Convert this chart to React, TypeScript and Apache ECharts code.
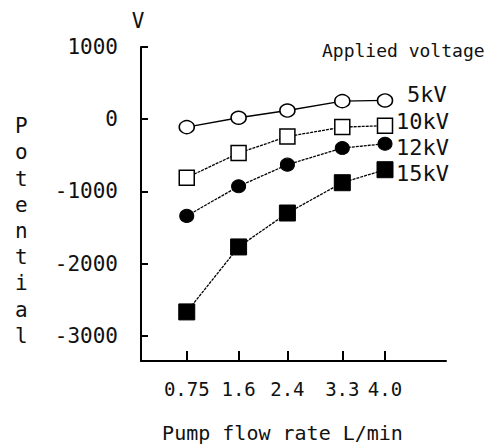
import React, { useEffect, useRef } from "react";
import * as echarts from "echarts";

const flowRates = [0.75, 1.6, 2.4, 3.3, 4.0];
const tickLabels = ["0.75", "1.6", "2.4", "3.3", "4.0"];
const yTicks = [-3000, -2000, -1000, 0, 1000];

const seriesNames = ["5kV", "10kV", "12kV", "15kV"];
const v5 = [-110, 20, 120, 250, 260];
const v10 = [-810, -470, -240, -110, -90];
const v12 = [-1340, -930, -630, -400, -340];
const v15 = [-2670, -1770, -1300, -880, -700];

const MONO = "DejaVu Sans Mono";

export default function App() {
  const ref = useRef<HTMLDivElement>(null);
  useEffect(() => {
    if (!ref.current) return;
    const chart = echarts.init(ref.current, null, { renderer: "svg" });
    const mk = (vals: number[]) => vals.map((v, i) => [flowRates[i], v]);
    const solidLine = { color: "#000", width: 1.4 };
    const dotLine = { color: "#000", width: 1.3, type: [3, 1] };
    const endLabelBase = {
      show: true,
      fontFamily: MONO,
      fontSize: 22,
      color: "#111",
      formatter: "{a}",
    };
    chart.setOption({
      animation: false,
      backgroundColor: "#fff",
      title: {
        text: "Applied voltage",
        left: 317,
        top: 36,
        textStyle: { fontFamily: MONO, fontSize: 18, fontWeight: "normal", color: "#111" },
      },
      graphic: [
        {
          type: "text",
          left: 15,
          top: 113,
          style: {
            text: "P\no\nt\ne\nn\nt\ni\na\nl",
            fontFamily: MONO,
            fontSize: 21,
            lineHeight: 26.2,
            fill: "#111",
            align: "center",
          },
        },
      ],
      grid: { left: 141, right: 46, top: 47, bottom: 84 },
      xAxis: {
        type: "value",
        min: 0,
        max: 5.0,
        name: "Pump flow rate L/min",
        nameLocation: "middle",
        nameGap: 62,
        nameTextStyle: { fontFamily: MONO, fontSize: 20, color: "#111", padding: [0, 22, 0, 0] },
        axisLine: { show: true, onZero: false, lineStyle: { color: "#000", width: 2 } },
        axisTick: { show: true, inside: true, length: 10, customValues: flowRates, lineStyle: { color: "#000", width: 2 } },
        axisLabel: {
          customValues: flowRates,
          formatter: (v: number) => tickLabels[flowRates.indexOf(v)] ?? "",
          fontFamily: MONO,
          fontSize: 19,
          color: "#111",
          margin: 18,
        },
        splitLine: { show: false },
      },
      yAxis: {
        type: "value",
        min: -3350,
        max: 1000,
        name: "V",
        nameLocation: "end",
        nameGap: 16,
        nameTextStyle: { fontFamily: MONO, fontSize: 21, color: "#111", align: "center", padding: [0, 6, 0, 0] },
        axisLine: { show: true, onZero: false, lineStyle: { color: "#000", width: 2 } },
        axisTick: { show: true, inside: true, length: 7, customValues: yTicks, lineStyle: { color: "#000", width: 2 } },
        axisLabel: {
          customValues: yTicks,
          formatter: (v: number) => String(v),
          fontFamily: MONO,
          fontSize: 21,
          color: "#111",
          margin: 23,
        },
        splitLine: { show: false },
      },
      series: [
        {
          name: seriesNames[0],
          type: "line",
          data: mk(v5),
          symbol: "circle",
          symbolSize: [15, 13],
          itemStyle: { color: "#fff", borderColor: "#000", borderWidth: 1.5 },
          lineStyle: solidLine,
          endLabel: { ...endLabelBase, offset: [14, -6] },
          z: 5,
        },
        {
          name: seriesNames[1],
          type: "line",
          data: mk(v10),
          symbol: "rect",
          symbolSize: 15,
          itemStyle: { color: "#fff", borderColor: "#000", borderWidth: 1.5 },
          lineStyle: dotLine,
          endLabel: { ...endLabelBase, offset: [3, -4] },
          z: 4,
        },
        {
          name: seriesNames[2],
          type: "line",
          data: mk(v12),
          symbol: "circle",
          symbolSize: [14, 13],
          itemStyle: { color: "#000", borderColor: "#000", borderWidth: 1 },
          lineStyle: dotLine,
          endLabel: { ...endLabelBase, offset: [3, 4] },
          z: 3,
        },
        {
          name: seriesNames[3],
          type: "line",
          data: mk(v15),
          symbol: "rect",
          symbolSize: 16,
          itemStyle: { color: "#000", borderColor: "#000", borderWidth: 1 },
          lineStyle: dotLine,
          endLabel: { ...endLabelBase, offset: [3, 4] },
          z: 2,
        },
      ],
    });
    return () => chart.dispose();
  }, []);
  return (
    <div
      ref={ref}
      style={{ position: "fixed", left: 0, top: 0, width: 492, height: 448, background: "#fff" }}
    />
  );
}
